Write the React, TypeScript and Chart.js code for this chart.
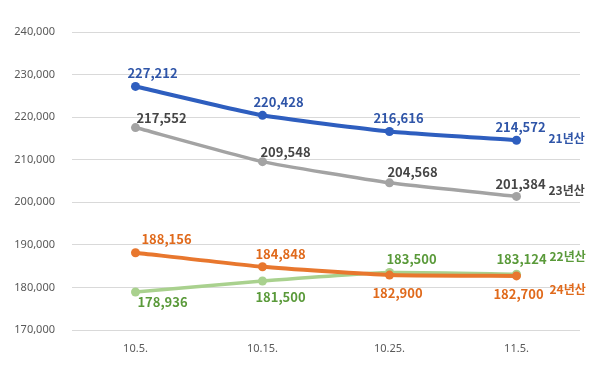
import React, { useEffect, useRef } from "react";
import { Chart, registerables } from "chart.js";

Chart.register(...registerables);

const categories = ["10.5.", "10.15.", "10.25.", "11.5."];
const seriesNames = ["21년산", "23년산", "22년산", "24년산"];
const values21 = [227212, 220428, 216616, 214572];
const values23 = [217552, 209548, 204568, 201384];
const values22 = [178936, 181500, 183500, 183124];
const values24 = [188156, 184848, 182900, 182700];
const yMin = 170000;
const yMax = 240000;
const yStep = 10000;

const lineColors = ["#2E5EBF", "#A3A3A3", "#A9D18E", "#E8772E"];
const labelColors = ["#2F55A8", "#454545", "#5A9A3A", "#E06A1C"];
// per-point label offsets [dx, dy] relative to point
const labelOffsets = [
  [[17, -13], [16, -13], [9, -13], [4, -13]],
  [[26, -10], [23, -10], [23, -11], [4, -12]],
  [[27, 10], [18, 16], [22, -13], [5, -15]],
  [[31, -14], [18, -13], [8, 18], [2, 18]],
];
const endLabelOffsets = [[32, -2], [32, -6], [33, -18], [33, 14]];

const fmt = (v: number) => v.toLocaleString("en-US");

const labelPlugin = {
  id: "labels",
  afterDatasetsDraw(chart: any) {
    const ctx = chart.ctx;
    ctx.save();
    chart.data.datasets.forEach((ds: any, i: number) => {
      const meta = chart.getDatasetMeta(i);
      ctx.fillStyle = labelColors[i];
      ctx.font = "600 13px 'Noto Sans CJK KR', 'Noto Sans', sans-serif";
      ctx.textAlign = "center";
      ctx.textBaseline = "middle";
      meta.data.forEach((pt: any, j: number) => {
        const [dx, dy] = labelOffsets[i][j];
        ctx.fillText(fmt(ds.data[j]), pt.x + dx, pt.y + dy);
      });
      const last = meta.data[meta.data.length - 1];
      const [ex, ey] = endLabelOffsets[i];
      ctx.font = "600 12px 'Noto Sans CJK KR', sans-serif";
      ctx.textAlign = "left";
      ctx.fillText(seriesNames[i], last.x + ex, last.y + ey);
    });
    ctx.restore();
  },
};

export default function App() {
  const ref = useRef<HTMLCanvasElement>(null);
  useEffect(() => {
    document.body.style.margin = "0";
    const all = [values21, values23, values22, values24];
    const chart = new Chart(ref.current!, {
      type: "line",
      data: {
        labels: categories,
        datasets: all.map((d, i) => ({
          label: seriesNames[i],
          data: d,
          borderColor: lineColors[i],
          backgroundColor: lineColors[i],
          borderWidth: i === 0 || i === 3 ? 4 : 3.5,
          pointRadius: 4.5,
          pointHoverRadius: 4.5,
          pointBorderWidth: 0,
          tension: 0.15,
          order: i === 3 ? 0 : i === 2 ? 1 : 2,
        })),
      },
      options: {
        animation: false,
        responsive: false,
        devicePixelRatio: 1,
        layout: { padding: { top: 32, right: 20, left: 0, bottom: 0 } },
        plugins: { legend: { display: false }, tooltip: { enabled: false } },
        scales: {
          x: {
            offset: true,
            grid: { display: false, drawTicks: false },
            border: { display: false },
            ticks: {
              color: "#595959",
              font: { size: 11, family: "'Noto Sans', sans-serif" },
              padding: 12,
            },
            afterFit: (s: any) => {
              s.height = 44;
            },
          },
          y: {
            min: yMin,
            max: yMax,
            grid: { color: "#D9D9D9", lineWidth: 1, drawTicks: false },
            border: { display: false },
            ticks: {
              stepSize: yStep,
              color: "#595959",
              font: { size: 11, family: "'Noto Sans', sans-serif" },
              padding: 17,
              callback: (v: any) => fmt(Number(v)),
            },
            afterFit: (s: any) => {
              s.width = 72;
            },
          },
        },
      },
      plugins: [labelPlugin],
    });
    return () => chart.destroy();
  }, []);
  return (
    <div style={{ width: 600, height: 374, background: "#fff" }}>
      <canvas ref={ref} width={600} height={374} />
    </div>
  );
}
